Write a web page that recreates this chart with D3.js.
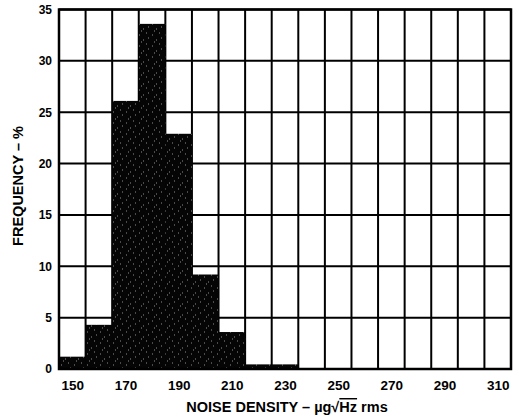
<!DOCTYPE html>
<html>
<head>
<meta charset="utf-8">
<script src="https://cdn.jsdelivr.net/npm/d3@7"></script>
<style>
  body { margin: 0; background: #fff; }
  text { font-family: "Liberation Sans", Arial, sans-serif; font-weight: bold; fill: #000; }
</style>
</head>
<body>
<svg id="chart" width="519" height="420"></svg>
<script>
// histogram bins (centre of each 10-unit bin) and frequency in %
var binCenters = [150, 160, 170, 180, 190, 200, 210, 220, 230, 240, 250, 260, 270, 280, 290, 300, 310];
var frequency  = [1.2, 4.3, 26.1, 33.6, 22.9, 9.2, 3.6, 0.45, 0.45, 0, 0, 0, 0, 0, 0, 0, 0];
var xTickLabels = [150, 170, 190, 210, 230, 250, 270, 290, 310];
var yTickLabels = [0, 5, 10, 15, 20, 25, 30, 35];

var binWidth = 10;
var margin = {top: 9.5, right: 8, bottom: 51, left: 59};
var width = 519 - margin.left - margin.right,
    height = 420 - margin.top - margin.bottom;

var svg = d3.select("#chart");

// speckle texture for the dark bars
var defs = svg.append("defs");
var pat = defs.append("pattern")
    .attr("id", "speck")
    .attr("patternUnits", "userSpaceOnUse")
    .attr("width", 13).attr("height", 11);
pat.append("rect").attr("width", 13).attr("height", 11).attr("fill", "#050505");
[[2,3],[9,1],[6,8],[11,6],[4,10]].forEach(function(p){
    pat.append("rect").attr("x", p[0]).attr("y", p[1]).attr("width", 1).attr("height", 1)
        .attr("fill", "#fff").attr("opacity", 0.55);
});

var g = svg.append("g").attr("transform", "translate(" + margin.left + "," + margin.top + ")");

var x = d3.scaleLinear()
    .domain([binCenters[0] - binWidth / 2, binCenters[binCenters.length - 1] + binWidth / 2])
    .range([0, width]);
var y = d3.scaleLinear().domain([0, 35]).range([height, 0]);

// grid: vertical lines at every bin edge
var edges = binCenters.map(function(c){ return c - binWidth / 2; });
edges.push(binCenters[binCenters.length - 1] + binWidth / 2);

g.append("g").selectAll("line").data(edges).enter().append("line")
    .attr("x1", function(d){ return x(d); }).attr("x2", function(d){ return x(d); })
    .attr("y1", 0).attr("y2", height)
    .attr("stroke", "#000").attr("stroke-width", 2);

g.append("g").selectAll("line").data(yTickLabels).enter().append("line")
    .attr("x1", 0).attr("x2", width)
    .attr("y1", function(d){ return y(d); }).attr("y2", function(d){ return y(d); })
    .attr("stroke", "#000").attr("stroke-width", 2);

// bars
g.append("g").selectAll("rect").data(binCenters).enter().append("rect")
    .attr("x", function(d){ return x(d - binWidth / 2); })
    .attr("width", function(d){ return x(d + binWidth / 2) - x(d - binWidth / 2); })
    .attr("y", function(d, i){ return y(frequency[i]); })
    .attr("height", function(d, i){ return height - y(frequency[i]); })
    .attr("fill", "url(#speck)");

// frame
g.append("rect").attr("width", width).attr("height", height)
    .attr("fill", "none").attr("stroke", "#000").attr("stroke-width", 2.5);

// y axis labels
var yAxis = d3.axisLeft(y).tickValues(yTickLabels).tickSize(0).tickPadding(7);
var ya = g.append("g").call(yAxis);
ya.select(".domain").remove();
ya.selectAll("text").style("font-size", "12px").style("font-family", null);

// x axis labels
var xAxis = d3.axisBottom(x).tickValues(xTickLabels).tickSize(0).tickPadding(11);
var xa = g.append("g").attr("transform", "translate(0," + height + ")").call(xAxis);
xa.select(".domain").remove();
xa.selectAll("text").style("font-size", "13.5px").style("font-family", null);

// axis titles
svg.append("text")
    .attr("transform", "translate(23,186) rotate(-90)")
    .attr("text-anchor", "middle")
    .style("font-size", "14.5px")
    .text("FREQUENCY \u2013 %");

var xt = svg.append("text")
    .attr("x", 287).attr("y", 412)
    .attr("text-anchor", "middle")
    .style("font-size", "14.5px");
xt.append("tspan").text("NOISE DENSITY \u2013 \u00b5g\u221a");
xt.append("tspan").style("text-decoration", "overline").text("Hz");
xt.append("tspan").text(" rms");
</script>
</body>
</html>
